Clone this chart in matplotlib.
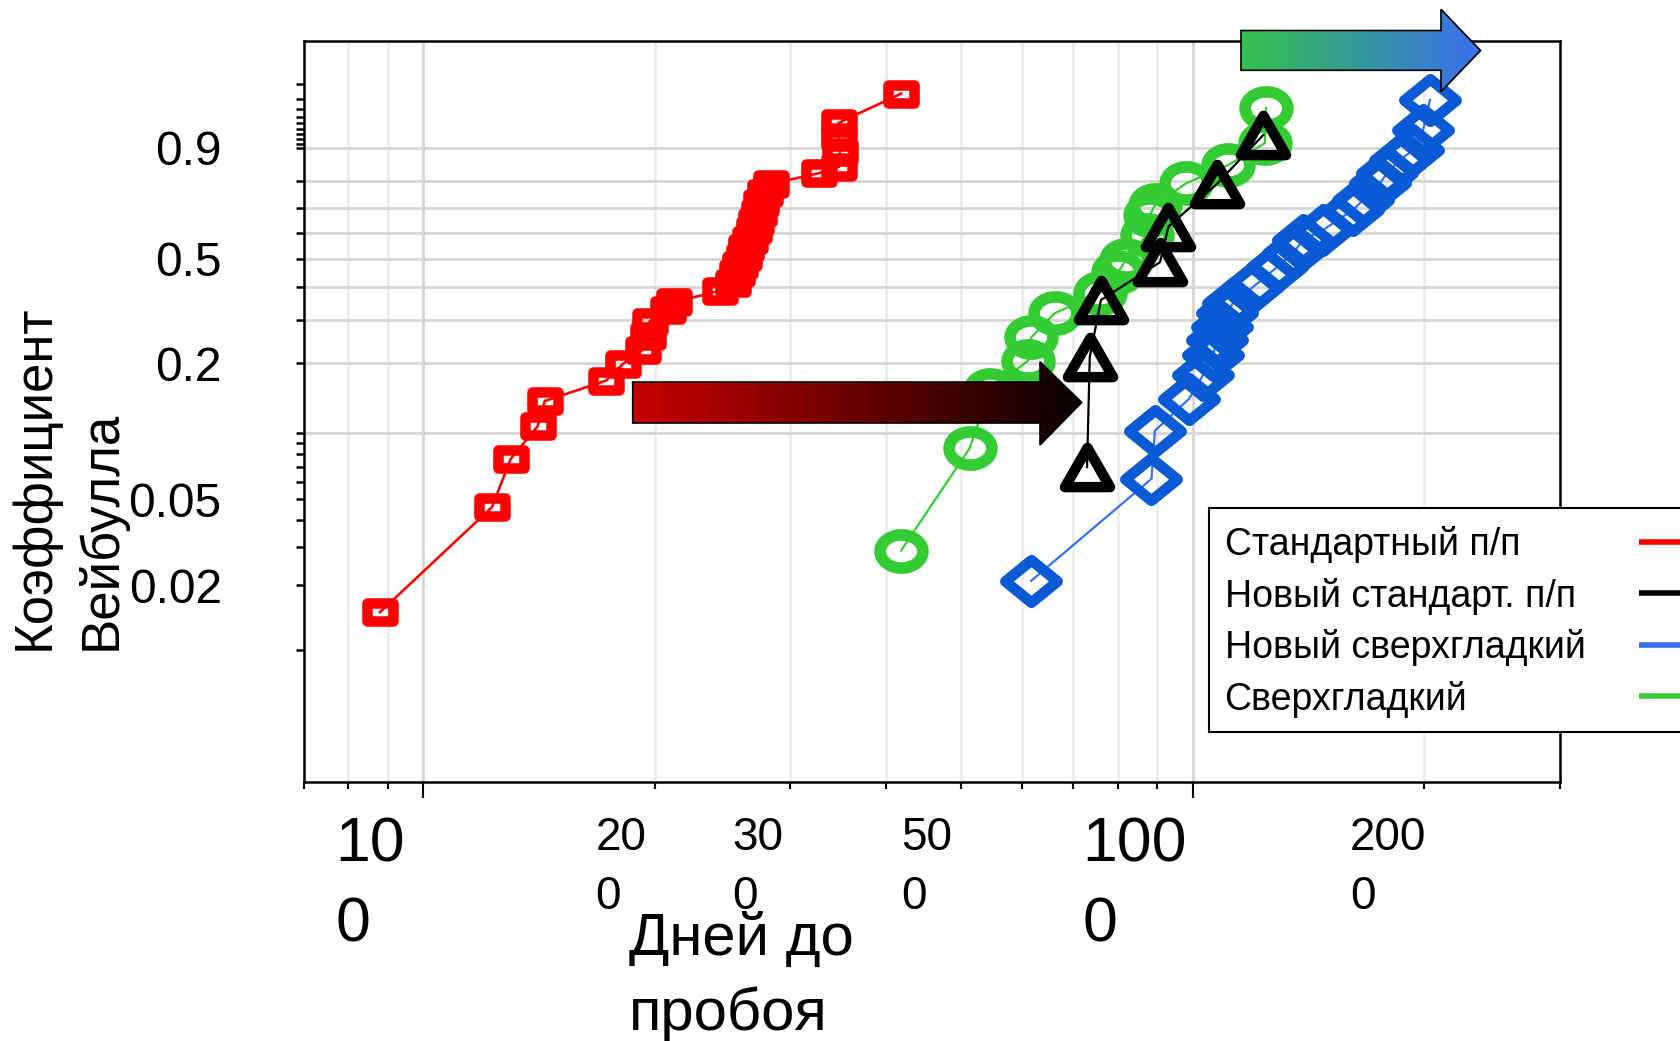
import numpy as np
import matplotlib
matplotlib.use('Agg')
import matplotlib.pyplot as plt
from matplotlib.path import Path
from matplotlib.markers import MarkerStyle
from matplotlib.patches import Polygon, Rectangle
from matplotlib.colors import LinearSegmentedColormap

plt.rcParams['font.family'] = ['Liberation Sans', 'DejaVu Sans']

# days to breakdown and cumulative failure probability
std_days = [88, 123, 130, 141, 144, 173, 182, 193, 196, 197, 208, 212, 243, 253, 256, 258,
            261, 263, 266, 269, 271, 273, 275, 278, 283, 327, 347, 348, 347, 347, 418]
std_prob = [0.015, 0.046, 0.076, 0.107, 0.138, 0.169, 0.199, 0.228, 0.260, 0.296, 0.327, 0.351,
            0.387, 0.412, 0.447, 0.477, 0.507, 0.539, 0.572, 0.611, 0.644, 0.678, 0.717, 0.755,
            0.789, 0.826, 0.846, 0.890, 0.925, 0.951, 0.984]

new_std_days = [729, 735, 760, 907, 930, 1075, 1235]
new_std_prob = [0.070, 0.213, 0.358, 0.487, 0.625, 0.789, 0.929]

new_smooth_days = [617, 884, 893, 989, 1032, 1063, 1075, 1091, 1108, 1128, 1197, 1287, 1350,
                   1391, 1476, 1615, 1664, 1751, 1788, 1859, 1933, 1992, 2033]
new_smooth_prob = [0.021, 0.062, 0.102, 0.141, 0.179, 0.217, 0.250, 0.282, 0.319, 0.349, 0.399,
                   0.469, 0.521, 0.572, 0.611, 0.691, 0.729, 0.792, 0.826, 0.867, 0.894, 0.939, 0.979]

smooth_days = [418, 513, 545, 611, 617, 662, 758, 800, 819, 871, 880, 893, 980, 1112, 1241, 1245]
smooth_prob = [0.029, 0.085, 0.154, 0.205, 0.256, 0.319, 0.379, 0.451, 0.495, 0.591, 0.671,
               0.710, 0.791, 0.852, 0.911, 0.971]

legend_labels = ['Стандартный п/п', 'Новый стандарт. п/п', 'Новый сверхгладкий', 'Сверхгладкий']
legend_colors = ['#ff0000', '#000000', '#3a6df0', '#33cc33']

y_major = [0.1, 0.2, 0.3, 0.4, 0.5, 0.6, 0.7, 0.8, 0.9]
y_major_lab = ['', '0.2', '', '', '0.5', '', '', '', '0.9']
y_minor = [0.01, 0.02, 0.03, 0.04, 0.05, 0.06, 0.07, 0.08, 0.09,
           0.91, 0.92, 0.93, 0.94, 0.95, 0.96, 0.97, 0.98, 0.99]
y_minor_lab = ['', '0.02', '', '', '0.05', '', '', '', '', '', '', '', '', '', '', '', '', '']

x_major = [100, 1000]
x_minor = [70, 80, 90, 200, 300, 400, 500, 600, 700, 800, 900, 2000, 3000]
x_lab_pos = [100, 200, 300, 500, 1000, 2000]
x_lab_txt = ['10\n0', '20\n0', '30\n0', '50\n0', '100\n0', '200\n0']
x_lab_size = [45, 33, 33, 33, 45, 33]
x_lab_shift = [-18, -8, -7, -9, -6, 2]


# weibull probability scale
def weib(F):
    F = np.asarray(F, dtype=float)
    with np.errstate(all='ignore'):
        return np.log(-np.log1p(-F))


def weib_inv(w):
    w = np.asarray(w, dtype=float)
    with np.errstate(all='ignore'):
        return -np.expm1(-np.exp(w))


# markers stretched sideways like in the original
sq = Path([(-1.35, -1), (1.35, -1), (1.35, 1), (-1.35, 1), (-1.35, -1)],
          [Path.MOVETO, Path.LINETO, Path.LINETO, Path.LINETO, Path.CLOSEPOLY])
t = np.linspace(0, 2 * np.pi, 73)
ell = Path(np.column_stack([1.29 * np.cos(t), np.sin(t)]), closed=True)
dia = Path([(0, -1), (1.23, 0), (0, 1), (-1.23, 0), (0, -1)],
           [Path.MOVETO, Path.LINETO, Path.LINETO, Path.LINETO, Path.CLOSEPOLY])
tri = Path([(0, 1), (-1.15, -1), (1.15, -1), (0, 1)],
           [Path.MOVETO, Path.LINETO, Path.LINETO, Path.CLOSEPOLY])

fig = plt.figure(figsize=(16.8, 10.41), dpi=100)
ax = fig.add_axes([0.1807, 0.2488, 0.9286 - 0.1807, 0.9606 - 0.2488])

ax.set_xscale('log')
ax.set_yscale('function', functions=(weib, weib_inv))
ax.set_xlim(70, 3000)
ax.set_ylim(0.0024, 0.99933)
ax.set_axisbelow(True)

ax.plot(new_smooth_days, new_smooth_prob, color='#3370ff', lw=1.6,
        marker=MarkerStyle(dia, joinstyle='round'), ms=37.5, mew=7.8, mec='#0a5ad6', mfc='none')
ax.plot(smooth_days, smooth_prob, color='#33cc33', lw=1.6,
        marker=MarkerStyle(ell), ms=30.8, mew=8.4, mec='#33cc33', mfc='none')
ax.plot(new_std_days, new_std_prob, color='black', lw=1.6,
        marker=MarkerStyle(tri, joinstyle='round'), ms=32.5, mew=7.5, mec='black', mfc='none')
ax.plot(std_days, std_prob, color='#ff0000', lw=1.9,
        marker=MarkerStyle(sq, joinstyle='miter'), ms=18.2, mew=7.6, mec='#ff0000', mfc='none')

# ticks and grid
ax.set_xticks(x_major)
ax.set_xticks(x_minor, minor=True)
ax.set_xticklabels([])
ax.set_xticklabels([], minor=True)
ax.set_yticks(y_major, y_major_lab)
ax.set_yticks(y_minor, y_minor_lab, minor=True)

ax.tick_params(axis='x', which='major', direction='out', length=11.5, width=1.5, color='black')
ax.tick_params(axis='x', which='minor', direction='out', length=5, width=1.5, color='black')
ax.tick_params(axis='y', which='both', direction='out', length=6, width=1.8, color='black',
               pad=53, labelsize=34.5)

ax.xaxis.grid(True, which='major', color='#d4d4d4', lw=2)
ax.xaxis.grid(True, which='minor', color='#ececec', lw=2)
ax.yaxis.grid(True, which='major', color='#d6d6d6', lw=2)
ax.yaxis.grid(False, which='minor')

for sp in ax.spines.values():
    sp.set_linewidth(1.8)
    sp.set_color('black')

for xv, s, fs, dx in zip(x_lab_pos, x_lab_txt, x_lab_size, x_lab_shift):
    ax.annotate(s, xy=(xv, 0), xycoords=('data', 'axes fraction'), xytext=(dx, -34),
                textcoords='offset pixels', ha='right', va='top', fontsize=fs,
                linespacing=1.45, multialignment='left', annotation_clip=False)

fig.text(68 / 1680, 1 - 476.8 / 1041, 'Коэффициент\nВейбулла', rotation=90,
         ha='center', va='center', multialignment='left', fontsize=38, linespacing=1.4)
fig.text(629 / 1680, 1 - 911 / 1041, 'Дней до\nпробоя', ha='left', va='top',
         fontsize=43, linespacing=1.45)

# overlay in figure pixels: legend box (runs off the right edge) and gradient arrows
ov = fig.add_axes([0, 0, 1, 1], zorder=5)
ov.set_axis_off()
ov.patch.set_alpha(0)

ov.add_patch(Rectangle((1208.6, 507.9), 600, 223.9, facecolor='white', edgecolor='black',
                       lw=1.5, zorder=1))
for i, (lab, col) in enumerate(zip(legend_labels, legend_colors)):
    yy = 544.8 + i * 51.4
    ov.text(1224.6, yy, lab, fontsize=27, ha='left', va='center', zorder=2)
    ov.plot([1639, 1720], [yy - 3, yy - 3], color=col, lw=4, solid_capstyle='butt', zorder=2)

arrows = [
    ([(632.7, 382), (1040, 382), (1040, 361.7), (1081.7, 402.5), (1040, 445), (1040, 423),
      (632.7, 423)], ['#c80000', '#0a0000']),
    ([(1241, 30.5), (1441, 30.5), (1441, 9.3), (1480.5, 50.5), (1441, 91.7), (1441, 70.3),
      (1241, 70.3)], ['#33c24a', '#3a6ff0']),
]
grad = np.linspace(0, 1, 256).reshape(1, -1)
for verts, cols in arrows:
    xs = [v[0] for v in verts]
    ys = [v[1] for v in verts]
    poly = Polygon(verts, closed=True, facecolor='none', edgecolor='black', lw=1.2, zorder=4)
    ov.add_patch(poly)
    im = ov.imshow(grad, cmap=LinearSegmentedColormap.from_list('g', cols), aspect='auto',
                   extent=(min(xs), max(xs), max(ys), min(ys)), zorder=3)
    im.set_clip_path(poly)

ov.set_xlim(0, 1680)
ov.set_ylim(1041, 0)

fig.savefig('out.png', dpi=100, facecolor='white')
